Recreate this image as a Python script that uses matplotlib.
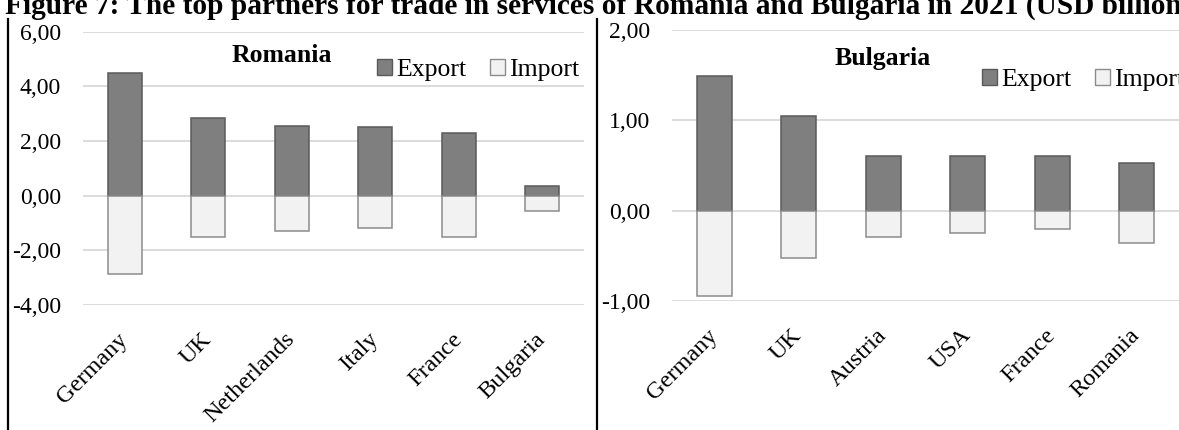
import matplotlib.pyplot as plt
from matplotlib.patches import Patch
from matplotlib.lines import Line2D

# data (USD billion)
ro_partners = ["Germany", "UK", "Netherlands", "Italy", "France", "Bulgaria"]
ro_export = [4.50, 2.85, 2.55, 2.52, 2.30, 0.37]
ro_import = [-2.87, -1.51, -1.28, -1.19, -1.52, -0.56]

bg_partners = ["Germany", "UK", "Austria", "USA", "France", "Romania"]
bg_export = [1.49, 1.05, 0.61, 0.60, 0.60, 0.53]
bg_import = [-0.945, -0.52, -0.29, -0.25, -0.20, -0.355]

ro_ticks = [-4, -2, 0, 2, 4, 6]
bg_ticks = [-1, 0, 1, 2]

EXP_FILL, EXP_EDGE = "#7f7f7f", "#5a5a5a"
IMP_FILL, IMP_EDGE = "#f2f2f2", "#8c8c8c"
GRID = "#d9d9d9"

plt.rcParams['font.family'] = ['Liberation Serif', 'DejaVu Serif']

W, H = 1179, 430
fig = plt.figure(figsize=(W / 100, H / 100), dpi=100)


def px_rect(x0, x1, ytop, ybot):
    return [x0 / W, 1 - ybot / H, (x1 - x0) / W, (ybot - ytop) / H]


def panel(rect, partners, exp, imp, ticks, title, title_xy, leg_xy):
    ax = fig.add_axes(rect)
    x = list(range(len(partners)))
    for t in ticks:
        ax.axhline(t, color=GRID, lw=1.3, zorder=0)
    ax.bar(x, exp, width=0.41, color=EXP_FILL, edgecolor=EXP_EDGE, linewidth=1.1, zorder=2)
    ax.bar(x, imp, width=0.41, color=IMP_FILL, edgecolor=IMP_EDGE, linewidth=1.1, zorder=2)
    ax.set_xlim(-0.5, len(partners) - 0.5)
    ax.set_ylim(ticks[0], ticks[-1])
    ax.set_yticks(ticks)
    ax.set_yticklabels([f"{t:.2f}".replace(".", ",") for t in ticks], fontsize=17)
    ax.set_xticks(x)
    ax.set_xticklabels(partners, fontsize=17.5, rotation=45, ha="right", va="center",
                       rotation_mode="anchor")
    ax.tick_params(axis="both", length=0)
    ax.tick_params(axis="y", pad=16)
    ax.tick_params(axis="x", pad=22.5)
    for s in ax.spines.values():
        s.set_visible(False)
    ax.patch.set_alpha(0)
    fig.text(title_xy[0] / W, 1 - title_xy[1] / H, title, fontsize=18.5, fontweight="bold",
             ha="center", va="center")
    handles = [Patch(facecolor=EXP_FILL, edgecolor=EXP_EDGE, label="Export"),
               Patch(facecolor=IMP_FILL, edgecolor=IMP_EDGE, label="Import")]
    fig.legend(handles=handles, loc="center left", ncol=2, frameon=False,
               bbox_to_anchor=(leg_xy[0] / W, 1 - leg_xy[1] / H), fontsize=18.5,
               handlelength=0.6, handleheight=0.6, handletextpad=0.15,
               columnspacing=0.9, borderpad=0, borderaxespad=0)
    return ax


panel(px_rect(83, 584, 31.7, 305), ro_partners, ro_export, ro_import, ro_ticks,
      "Romania", (282, 56), (377, 70))
panel(px_rect(672, 1179, 30, 301), bg_partners, bg_export, bg_import, bg_ticks,
      "Bulgaria", (883, 59), (982, 80))

# table borders around the panels
for xb in (8, 597):
    fig.add_artist(Line2D([xb / W, xb / W], [0, 1 - 19 / H], color="black", lw=1.6))

# caption row, clipped at the top edge like the source page
fig.text(5 / W, 1 - 14 / H,
         "Figure 7: The top partners for trade in services of Romania and Bulgaria in 2021 (USD billion)",
         fontsize=21.2, fontweight="bold", ha="left", va="baseline")

fig.savefig("out.png", dpi=100)
